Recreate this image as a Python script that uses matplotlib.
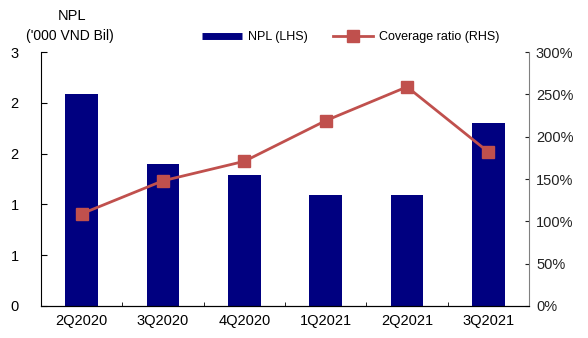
import matplotlib.pyplot as plt
import numpy as np
from matplotlib.ticker import FuncFormatter
from matplotlib.lines import Line2D

plt.rcParams['font.family'] = ['Liberation Sans', 'DejaVu Sans']

# data
quarters = ["2Q2020", "3Q2020", "4Q2020", "1Q2021", "2Q2021", "3Q2021"]
npl = [2.5, 1.68, 1.55, 1.31, 1.31, 2.16]          # '000 VND bil
coverage = [109, 148, 171, 219, 259, 182]          # %

bar_color = '#000080'
line_color = '#C0504D'

fig = plt.figure(figsize=(5.88, 3.38), dpi=100)
ax = fig.add_axes([0.0697, 0.0947, 0.83, 0.751])
ax2 = ax.twinx()

x = np.arange(len(quarters))
ax.bar(x, npl, width=0.4, color=bar_color, zorder=2)
ax2.plot(x, coverage, color=line_color, lw=2, marker='s', markersize=8, zorder=3)

# left axis: 0..3 in steps of 0.6, labels rounded to integers
ax.set_xlim(-0.5, len(quarters) - 0.5)
ax.set_ylim(0, 3)
ax.set_yticks(np.arange(0, 3.01, 0.6))
ax.yaxis.set_major_formatter(FuncFormatter(lambda v, p: f"{v:.0f}"))
ax.set_xticks(x)
ax.set_xticklabels(quarters)
ax.set_xticks(np.arange(0.5, len(quarters) - 0.5, 1), minor=True)
ax.tick_params(axis='x', which='major', length=0, pad=6, labelsize=10.5)
ax.tick_params(axis='x', which='minor', direction='in', length=3)
ax.tick_params(axis='y', direction='in', length=4, labelsize=10.5, pad=22)
for lab in ax.get_yticklabels():
    lab.set_horizontalalignment('left')

ax2.set_ylim(0, 300)
ax2.set_yticks(np.arange(0, 301, 50))
ax2.yaxis.set_major_formatter(FuncFormatter(lambda v, p: f"{v:.0f}%"))
ax2.tick_params(axis='y', direction='in', length=3, labelsize=10.5, pad=5,
                colors='#222222')

ax.spines['top'].set_visible(False)
ax2.spines['top'].set_visible(False)
ax2.spines['right'].set_color('#808080')
ax.spines['right'].set_visible(False)
ax2.spines['left'].set_visible(False)

fig.text(0.122, 0.952, "NPL", ha='center', va='center', fontsize=10.5)
fig.text(0.118, 0.893, "('000 VND Bil)", ha='center', va='center', fontsize=10)

handles = [Line2D([], [], color=bar_color, lw=5, solid_capstyle='butt'),
           Line2D([], [], color=line_color, lw=2, marker='s', markersize=8)]
labels = ['NPL (LHS)', 'Coverage ratio (RHS)']
fig.legend(handles, labels, loc='center', bbox_to_anchor=(0.596, 0.89), ncol=2,
           frameon=False, fontsize=9, handlelength=3.2, handletextpad=0.5,
           columnspacing=2.0, borderaxespad=0)

fig.savefig('out.png', dpi=100)
